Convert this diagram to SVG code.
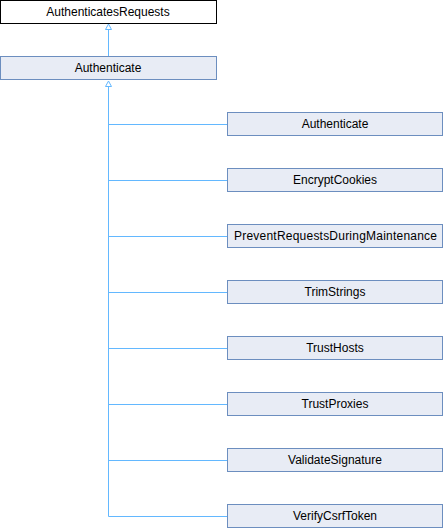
<svg xmlns="http://www.w3.org/2000/svg" width="444" height="528" viewBox="0 0 444 528">
<style>
.n rect{fill:#e8ecf5;stroke:#6c8ebf;stroke-width:1}
.top rect{fill:#ffffff;stroke:#000000;stroke-width:1}
text{font-family:"Liberation Sans",Arial,sans-serif;font-size:12px;fill:#000;text-anchor:middle}
.e{stroke:#63b8ff;stroke-width:1;fill:none}
.ah{fill:#ffffff;stroke:#63b8ff;stroke-width:1}
</style>
<rect width="444" height="528" fill="#ffffff"/>
<g id="edges">
<line class="e" x1="108.5" y1="29" x2="108.5" y2="56"/>
<polygon class="ah" points="108.5,24 105.5,29.5 111.5,29.5"/>
<path class="e" d="M108.5,86 V516.5 M108.5,124.5 H227.5 M108.5,180.5 H227.5 M108.5,236.5 H227.5 M108.5,292.5 H227.5 M108.5,348.5 H227.5 M108.5,404.5 H227.5 M108.5,460.5 H227.5 M108.5,516.5 H227.5"/>
<polygon class="ah" points="108.5,81 105.5,86.5 111.5,86.5"/>
</g>
<g id="node_AuthenticatesRequests" class="top"><rect x="0.5" y="0.5" width="216" height="23"/><text x="108" y="16">AuthenticatesRequests</text></g>
<g id="node_Authenticate_base" class="n"><rect x="0.5" y="56.5" width="216" height="23"/><text x="108" y="72">Authenticate</text></g>
<g id="node_Authenticate" class="n"><rect x="227.5" y="112.5" width="215" height="23"/><text x="335" y="128">Authenticate</text></g>
<g id="node_EncryptCookies" class="n"><rect x="227.5" y="168.5" width="215" height="23"/><text x="335" y="184">EncryptCookies</text></g>
<g id="node_PreventRequestsDuringMaintenance" class="n"><rect x="227.5" y="224.5" width="215" height="23"/><text x="335.5" y="240" textLength="203" lengthAdjust="spacing">PreventRequestsDuringMaintenance</text></g>
<g id="node_TrimStrings" class="n"><rect x="227.5" y="280.5" width="215" height="23"/><text x="335" y="296">TrimStrings</text></g>
<g id="node_TrustHosts" class="n"><rect x="227.5" y="336.5" width="215" height="23"/><text x="335" y="352">TrustHosts</text></g>
<g id="node_TrustProxies" class="n"><rect x="227.5" y="392.5" width="215" height="23"/><text x="335" y="408">TrustProxies</text></g>
<g id="node_ValidateSignature" class="n"><rect x="227.5" y="448.5" width="215" height="23"/><text x="335" y="464">ValidateSignature</text></g>
<g id="node_VerifyCsrfToken" class="n"><rect x="227.5" y="504.5" width="215" height="23"/><text x="335" y="520">VerifyCsrfToken</text></g>
</svg>
